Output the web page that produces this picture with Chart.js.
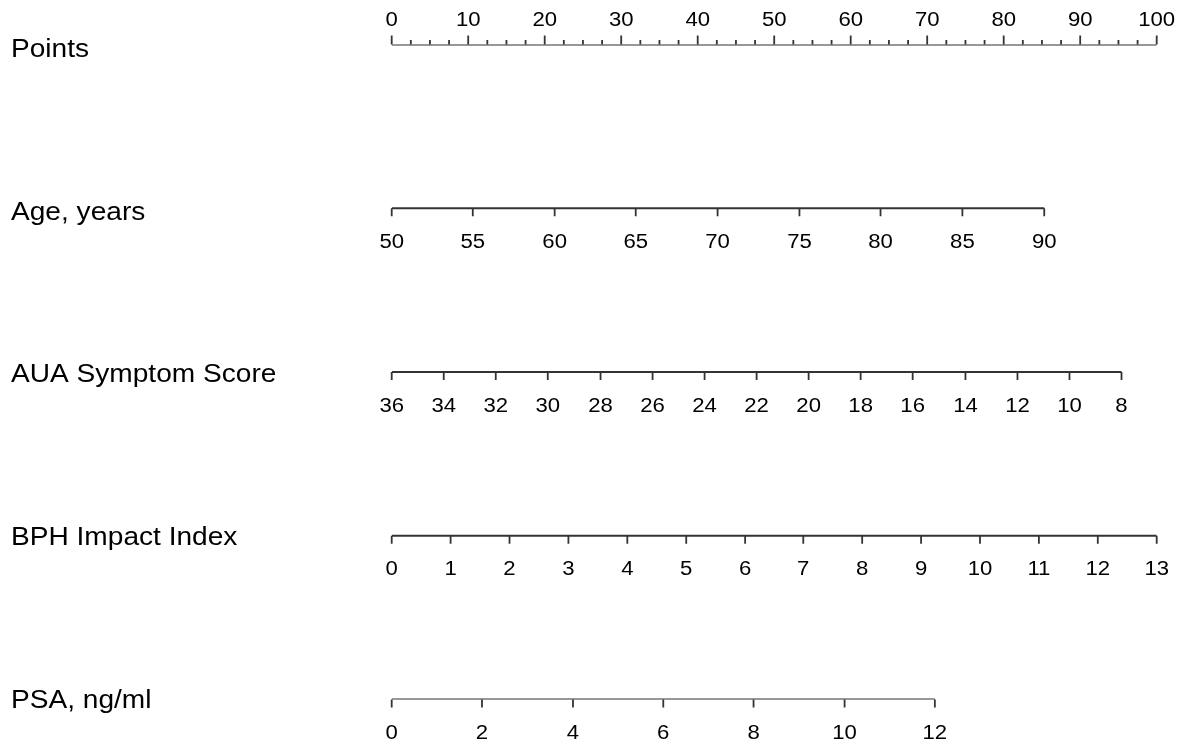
<!DOCTYPE html>
<html>
<head>
<meta charset="utf-8">
<script src="https://cdn.jsdelivr.net/npm/chart.js@4/dist/chart.umd.min.js"></script>
<style>
  body { margin: 0; background: #fff; }
  #wrap { width: 1188px; height: 743px; }
</style>
</head>
<body>
<div id="wrap"><canvas id="nomo" width="1188" height="743"></canvas></div>
<script>
// row titles of the nomogram
var rowTitles = ["Points", "Age, years", "AUA Symptom Score", "BPH Impact Index", "PSA, ng/ml"];

// tick labels of each row and where they land on the points scale (0-100)
var pointsLabels = [0, 10, 20, 30, 40, 50, 60, 70, 80, 90, 100];
var pointsPos    = [0, 10, 20, 30, 40, 50, 60, 70, 80, 90, 100];
var pointsMinor  = [2.5, 5, 7.5, 12.5, 15, 17.5, 22.5, 25, 27.5, 32.5, 35, 37.5, 42.5, 45, 47.5,
                    52.5, 55, 57.5, 62.5, 65, 67.5, 72.5, 75, 77.5, 82.5, 85, 87.5, 92.5, 95, 97.5];

var ageLabels = [50, 55, 60, 65, 70, 75, 80, 85, 90];
var agePos    = [0, 10.6, 21.3, 31.9, 42.6, 53.3, 63.9, 74.6, 85.3];

var auaLabels = [36, 34, 32, 30, 28, 26, 24, 22, 20, 18, 16, 14, 12, 10, 8];
var auaPos    = [0, 6.8, 13.6, 20.4, 27.3, 34.1, 40.9, 47.7, 54.5, 61.3, 68.1, 75.0, 81.8, 88.6, 95.4];

var bphLabels = [0, 1, 2, 3, 4, 5, 6, 7, 8, 9, 10, 11, 12, 13];
var bphPos    = [0, 7.7, 15.4, 23.1, 30.8, 38.5, 46.2, 53.8, 61.5, 69.2, 76.9, 84.6, 92.3, 100];

var psaLabels = [0, 2, 4, 6, 8, 10, 12];
var psaPos    = [0, 11.8, 23.7, 35.5, 47.3, 59.2, 71.0];

var rowLabels = [pointsLabels, ageLabels, auaLabels, bphLabels, psaLabels];
var rowPos = [pointsPos, agePos, auaPos, bphPos, psaPos];

var fontFam = "'Liberation Sans', Arial, Helvetica, sans-serif";
var titleBase = [12.5, 11.5, 9.6, 9, 8];   // title baseline below each axis line
var lineCol = "#333";

var datasets = rowPos.map(function(pos, i) {
  return {
    label: rowTitles[i],
    data: pos.map(function(p) { return { x: p, y: i }; }),
    showLine: true,
    borderColor: lineCol,
    borderWidth: 1.8,
    pointRadius: 0,
    fill: false
  };
});

function wideText(ctx, txt, x, y, sx) {
  ctx.save();
  ctx.translate(x, y);
  ctx.scale(sx, 1);
  ctx.fillText(txt, 0, 0);
  ctx.restore();
}

var nomoPlugin = {
  id: "nomo",
  afterDatasetsDraw: function(chart) {
    var ctx = chart.ctx;
    var xs = chart.scales.x, ys = chart.scales.y;
    ctx.save();
    ctx.strokeStyle = lineCol;
    ctx.lineWidth = 1.8;
    ctx.fillStyle = "#000";
    ctx.textBaseline = "alphabetic";

    for (var i = 0; i < rowPos.length; i++) {
      var yPix = ys.getPixelForValue(i);
      var up = (i === 0);
      // major ticks + labels
      for (var j = 0; j < rowPos[i].length; j++) {
        var xPix = xs.getPixelForValue(rowPos[i][j]);
        ctx.beginPath();
        ctx.moveTo(xPix, yPix);
        ctx.lineTo(xPix, up ? yPix - 9 : yPix + 8);
        ctx.stroke();
        ctx.font = "20.5px " + fontFam;
        ctx.textAlign = "center";
        wideText(ctx, String(rowLabels[i][j]), xPix, up ? yPix - 19 : yPix + 39.5, 1.08);
      }
      // row title
      ctx.font = "26.5px " + fontFam;
      ctx.textAlign = "left";
      wideText(ctx, rowTitles[i], 11, yPix + titleBase[i], 1.06);
    }

    // minor ticks on the points row
    var y0 = ys.getPixelForValue(0);
    pointsMinor.forEach(function(p) {
      var xPix = xs.getPixelForValue(p);
      ctx.beginPath();
      ctx.moveTo(xPix, y0);
      ctx.lineTo(xPix, y0 - 4.5);
      ctx.stroke();
    });
    ctx.restore();
  }
};

new Chart(document.getElementById("nomo").getContext("2d"), {
  type: "scatter",
  data: { datasets: datasets },
  options: {
    responsive: false,
    animation: false,
    layout: { padding: { left: 391.7, right: 31.3, top: 44.5, bottom: 43.5 } },
    plugins: { legend: { display: false }, tooltip: { enabled: false } },
    scales: {
      x: { type: "linear", min: 0, max: 100, display: false },
      y: { type: "linear", min: 0, max: 4, reverse: true, display: false }
    }
  },
  plugins: [nomoPlugin]
});
</script>
</body>
</html>
